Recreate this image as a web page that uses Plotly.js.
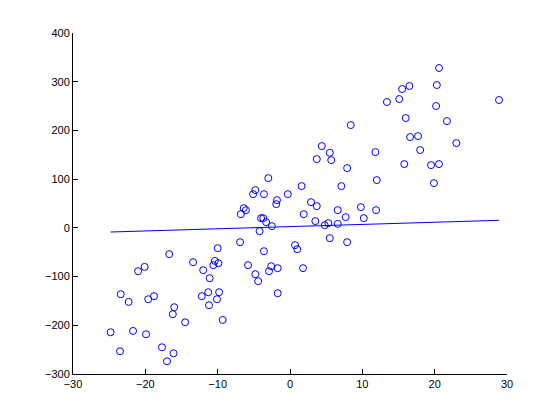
<!DOCTYPE html>
<html>
<head>
<meta charset="utf-8">
<script src="https://cdn.plot.ly/plotly-3.0.1.min.js"></script>
<style>html,body{margin:0;padding:0;background:#fff;}#chart{width:560px;height:420px;}</style>
</head>
<body>
<div id="chart"></div>
<script>
var xValues = [
 -6.9,-10.0,-16.7,-13.4,-10.4,-10.6,-9.9,-21.0,-20.1,-12.0,-11.1,-23.4,-22.3,-19.6,-18.8,-12.2,-11.3,-9.8,-10.1,-11.2,
 -16.0,-16.2,-14.5,-9.3,-24.8,-21.7,-19.9,-23.5,-17.7,-16.1,-17.0,
 -3.0,-4.8,-5.1,-3.6,-0.3,-1.8,-1.9,-6.4,-6.1,-6.8,-4.0,-3.7,-3.3,-2.5,-4.2,0.7,1.0,-3.6,-5.8,-2.6,-2.9,-1.7,-4.8,-4.4,-1.7,
 7.9,1.8,
 20.6,15.5,16.5,20.3,13.4,15.1,28.9,20.2,16.0,21.7,8.4,16.6,17.7,23.0,4.4,5.5,18.0,3.7,5.7,11.8,15.8,19.5,20.6,7.9,
 12.0,19.9,1.6,7.1,2.9,3.7,9.8,1.9,6.6,7.7,11.9,10.2,3.5,4.8,5.3,6.6,5.5
];
var yValues = [
 -29.4,-41.7,-54.0,-70.5,-67.8,-76.6,-72.5,-89.0,-80.1,-86.9,-103.4,-136.2,-152.0,-146.5,-140.3,-140.3,-132.1,-132.1,-146.5,-158.8,
 -162.9,-177.3,-193.8,-189.0,-214.3,-211.6,-218.4,-253.3,-245.1,-257.5,-273.9,
 102.1,77.5,69.2,69.2,69.2,56.9,48.7,40.5,36.4,28.1,19.9,19.9,11.7,3.5,-6.8,-35.5,-43.8,-47.9,-76.6,-78.7,-89.0,-82.8,-95.1,-109.5,-134.2,
 -29.4,-82.8,
 328.1,285.0,291.2,293.2,258.3,264.4,262.4,250.1,225.4,219.2,211.0,186.4,188.4,174.0,167.9,154.1,159.7,141.2,139.1,155.5,130.9,128.8,130.9,122.7,
 98.0,91.8,85.7,85.7,52.8,44.6,42.5,28.1,36.4,22.0,36.4,19.9,13.8,5.5,9.7,8.2,-21.2
];
var fitX = [-24.8, 28.9];
var fitY = [-8.5, 15.5];

var data = [
  {x: xValues, y: yValues, type: 'scatter', mode: 'markers',
   marker: {symbol: 'circle-open', size: 7, color: '#0000ff', line: {width: 1, color: '#0000ff'}},
   hoverinfo: 'none'},
  {x: fitX, y: fitY, type: 'scatter', mode: 'lines',
   line: {color: '#0000ff', width: 1}, hoverinfo: 'none'}
];
var axisCommon = {
  showgrid: false, zeroline: false, showline: true, linecolor: '#000', linewidth: 1,
  ticks: 'inside', ticklen: 5, tickcolor: '#000', mirror: false,
  tickfont: {family: 'Liberation Sans, Arial, sans-serif', size: 11, color: '#000'}
};
var layout = {
  width: 560, height: 420,
  margin: {l: 73, r: 53, t: 33, b: 46},
  paper_bgcolor: '#fff', plot_bgcolor: '#fff',
  showlegend: false,
  xaxis: Object.assign({}, axisCommon, {range: [-30, 30], dtick: 10, tick0: -30}),
  yaxis: Object.assign({}, axisCommon, {range: [-300, 400], dtick: 100, tick0: -300})
};
Plotly.newPlot('chart', data, layout, {staticPlot: true, displayModeBar: false});
</script>
</body>
</html>
